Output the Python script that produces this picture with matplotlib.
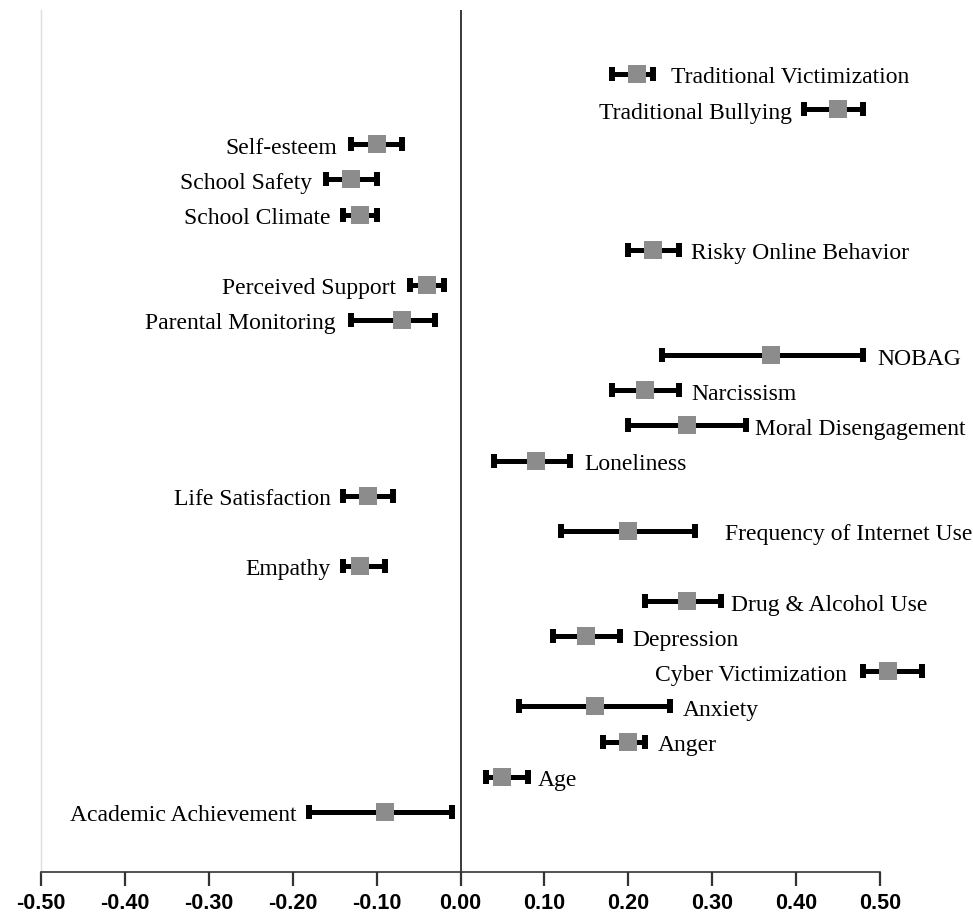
import matplotlib
matplotlib.use("Agg")
import matplotlib.pyplot as plt

# Data (top to bottom as in the chart)
labels = [
    "Traditional Victimization", "Traditional Bullying", "Self-esteem",
    "School Safety", "School Climate", "Risky Online Behavior",
    "Perceived Support", "Parental Monitoring", "NOBAG", "Narcissism",
    "Moral Disengagement", "Loneliness", "Life Satisfaction",
    "Frequency of Internet Use", "Empathy", "Drug & Alcohol Use",
    "Depression", "Cyber Victimization", "Anxiety", "Anger", "Age",
    "Academic Achievement",
]
means = [0.21, 0.45, -0.10, -0.13, -0.12, 0.23, -0.04, -0.07, 0.37, 0.22,
         0.27, 0.09, -0.11, 0.20, -0.12, 0.27, 0.15, 0.51, 0.16, 0.20,
         0.05, -0.09]
lows = [0.18, 0.41, -0.13, -0.16, -0.14, 0.20, -0.06, -0.13, 0.24, 0.18,
        0.20, 0.04, -0.14, 0.12, -0.14, 0.22, 0.11, 0.48, 0.07, 0.17,
        0.03, -0.18]
highs = [0.23, 0.48, -0.07, -0.10, -0.10, 0.26, -0.02, -0.03, 0.48, 0.26,
         0.34, 0.13, -0.08, 0.28, -0.09, 0.31, 0.19, 0.55, 0.25, 0.22,
         0.08, -0.01]
label_side = ["right", "left", "left", "left", "left", "right", "left", "left",
              "right", "right", "right", "right", "left", "right", "left",
              "right", "right", "left", "right", "right", "right", "left"]
x_ticks = [-0.5, -0.4, -0.3, -0.2, -0.1, 0.0, 0.1, 0.2, 0.3, 0.4, 0.5]
x_tick_labels = ["-0.50", "-0.40", "-0.30", "-0.20", "-0.10", "0.00",
                 "0.10", "0.20", "0.30", "0.40", "0.50"]

n = len(labels)
ypos = [n - i for i in range(n)]

fig = plt.figure(figsize=(9.73, 9.18), dpi=100)
ax = fig.add_axes([41 / 973, 46 / 918, (880 - 41) / 973, 862 / 918])

xerr = [[m - lo for m, lo in zip(means, lows)],
        [hi - m for m, hi in zip(means, highs)]]
eb = ax.errorbar(means, ypos, xerr=xerr, fmt="none", ecolor="black",
                 elinewidth=3.6, capsize=5.0, capthick=4.3, zorder=3)
for art in list(eb.lines[1]) + list(eb.lines[2]):
    art.set_clip_on(False)
sq = ax.plot(means, ypos, linestyle="none", marker="s", markersize=12.5,
             color="#8c8c8c", markeredgewidth=0, zorder=4)
for a in sq:
    a.set_clip_on(False)

ax.axvline(0, color="#3a3a3a", linewidth=1.4, zorder=2)

# label offset from the cap (points)
label_gap = {"Frequency of Internet Use": 21, "Traditional Victimization": 12.5,
             "Cyber Victimization": 12, "Parental Monitoring": 11.5,
             "Moral Disengagement": 6.8, "Drug & Alcohol Use": 7.6,
             "Age": 7.0, "NOBAG": 10.4, "Loneliness": 10.4,
             "Self-esteem": 10.4, "School Safety": 10.4,
             "Perceived Support": 10.4}
for lab, lo, hi, y, side in zip(labels, lows, highs, ypos, label_side):
    gap = label_gap.get(lab, 9)
    if side == "right":
        ax.annotate(lab, (hi, y), xytext=(gap, -6.8), textcoords="offset points",
                    ha="left", va="baseline", fontsize=17,
                    family="Liberation Serif", annotation_clip=False)
    else:
        ax.annotate(lab, (lo, y), xytext=(-gap, -6.8), textcoords="offset points",
                    ha="right", va="baseline", fontsize=17,
                    family="Liberation Serif", annotation_clip=False)

ax.set_xlim(-0.5, 0.5)
ax.set_ylim(-0.71, n + 1.82)
ax.set_xticks(x_ticks)
ax.set_xticklabels(x_tick_labels, fontsize=15.5, fontweight="bold",
                   family="Liberation Sans")
ax.set_yticks([])
ax.tick_params(axis="x", direction="out", length=10, width=1.6,
               color="#333333", pad=5)
for s in ["top", "right"]:
    ax.spines[s].set_visible(False)
ax.spines["left"].set_color("#dddddd")
ax.spines["left"].set_linewidth(1.0)
ax.spines["bottom"].set_color("#333333")
ax.spines["bottom"].set_linewidth(1.2)

fig.savefig("out.png", dpi=100)
